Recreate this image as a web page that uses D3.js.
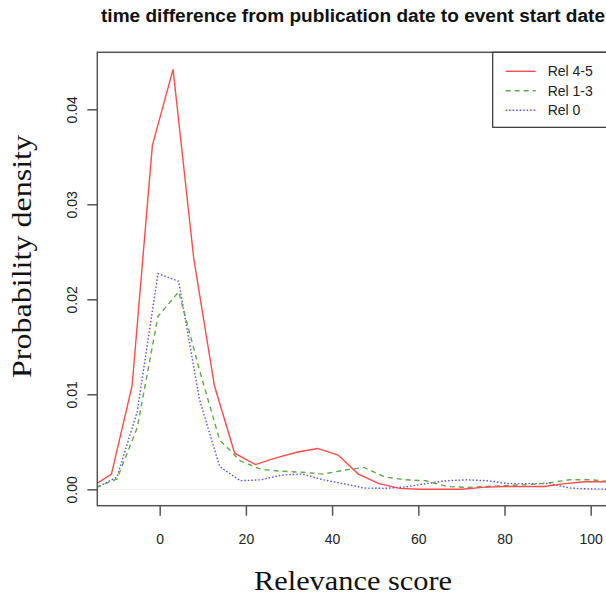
<!DOCTYPE html>
<html>
<head>
<meta charset="utf-8">
<script src="https://cdn.jsdelivr.net/npm/d3@7"></script>
<style>
    body { margin: 0; background: #fff; }
    svg { display: block; }
    .tick text { font-family: 'Liberation Sans', Arial, sans-serif; font-size: 14px; fill: #222; }
</style>
</head>
<body>
<script>
// x positions of the density estimates (Rel 4-5 uses its own grid)
const relHighX = [-16.0, -11.2, -6.4, -1.7, 3.1, 7.9, 12.7, 17.4, 22.2, 27.0, 31.8, 36.6, 41.4, 46.1,
    50.9, 55.7, 60.5, 65.3, 70.1, 74.8, 79.6, 84.4, 89.2, 94.0, 98.7, 103.5, 108.3]
const relLowX = [-14.7, -9.9, -5.2, -0.4, 4.4, 9.2, 13.9, 18.7, 23.5, 28.3, 33.1, 37.9, 42.6, 47.4,
    52.2, 57.0, 61.8, 66.6, 71.3, 76.1, 80.9, 85.7, 90.5, 95.2, 100.0, 104.8]

// density values
const rel45 = [0.0002, 0.0016, 0.0109, 0.0362, 0.0442, 0.0243, 0.0109, 0.0038, 0.0026, 0.0033, 0.0039,
    0.0043, 0.0036, 0.0016, 0.0006, 0.0001, 0.0000, 0.0000, 0.0000, 0.0002, 0.0003, 0.0003, 0.0003,
    0.0006, 0.0008, 0.0008, 0.0008]
const rel13 = [0.0002, 0.0011, 0.0065, 0.0182, 0.0208, 0.0126, 0.0052, 0.0030, 0.0021, 0.0019, 0.0018,
    0.0016, 0.0020, 0.0023, 0.0013, 0.0010, 0.0009, 0.0003, 0.0002, 0.0003, 0.0004, 0.0005, 0.0007,
    0.0010, 0.0010, 0.0008]
const rel0 = [0.00015, 0.0013, 0.0082, 0.0227, 0.0219, 0.0095, 0.0024, 0.0009, 0.0010, 0.0015, 0.0016,
    0.0010, 0.0006, 0.00013, 0.0001, 0.00025, 0.0006, 0.0009, 0.0010, 0.0009, 0.0006, 0.0006, 0.0006,
    0.00013, 0.00003, 0.0]

const xTicks = [0, 20, 40, 60, 80, 100]
const yTicks = [0, 0.01, 0.02, 0.03, 0.04]
const seriesNames = ['Rel 4-5', 'Rel 1-3', 'Rel 0']

const w = 606
const h = 596
// plot box (right side runs off the picture)
const pLeft = 97.3
const pRight = 626
const pTop = 52.3
const pBottom = 505.7

const xScale = d3.scaleLinear().domain([0, 100]).range([159.7, 590.7])
const yScale = d3.scaleLinear().domain([0, 0.01]).range([489.3, 394.3])

const svg = d3.select('body')
    .append('svg')
    .attr('width', w)
    .attr('height', h)

// clip for the lines
svg.append('clipPath')
    .attr('id', 'plotclip')
    .append('rect')
    .attr('x', pLeft)
    .attr('y', pTop)
    .attr('width', pRight - pLeft)
    .attr('height', pBottom - pTop)

// faint zero line
svg.append('line')
    .attr('x1', pLeft).attr('x2', pRight)
    .attr('y1', yScale(0)).attr('y2', yScale(0))
    .style('stroke', '#eeeeee')
    .style('stroke-width', 1)

const series = [
    { name: seriesNames[0], xs: relHighX, ys: rel45, color: '#ff4b4b', dash: null },
    { name: seriesNames[1], xs: relLowX, ys: rel13, color: '#5fa850', dash: '5,4' },
    { name: seriesNames[2], xs: relLowX, ys: rel0, color: '#5050ff', dash: '1.5,2' }
]

const line = d3.line()
    .x(d => xScale(d[0]))
    .y(d => yScale(d[1]))

const plot = svg.append('g').attr('clip-path', 'url(#plotclip)')

// draw in reverse so red sits on top
series.slice().reverse().forEach(s => {
    plot.append('path')
        .datum(s.xs.map((x, i) => [x, s.ys[i]]))
        .attr('d', line)
        .style('fill', 'none')
        .style('stroke', s.color)
        .style('stroke-width', 1.4)
        .style('stroke-dasharray', s.dash)
})

// plot box
svg.append('rect')
    .attr('x', pLeft)
    .attr('y', pTop)
    .attr('width', pRight - pLeft)
    .attr('height', pBottom - pTop)
    .style('fill', 'none')
    .style('stroke', '#555')
    .style('stroke-width', 1.5)

// x axis
const xAxis = d3.axisBottom(xScale).tickValues(xTicks).tickSize(10).tickPadding(18)
const gx = svg.append('g')
    .attr('transform', `translate(0,${pBottom})`)
    .call(xAxis)
gx.select('.domain').remove()
gx.selectAll('.tick line').style('stroke', '#555').style('stroke-width', 1.5)

// y axis
const yAxis = d3.axisLeft(yScale).tickValues(yTicks).tickSize(10).tickFormat(d3.format('.2f'))
const gy = svg.append('g')
    .attr('transform', `translate(${pLeft},0)`)
    .call(yAxis)
gy.select('.domain').remove()
gy.selectAll('.tick line').style('stroke', '#555').style('stroke-width', 1.5)
gy.selectAll('.tick text')
    .attr('x', 0)
    .attr('dy', null)
    .attr('text-anchor', 'middle')
    .attr('transform', 'translate(-20,0) rotate(-90)')

// title (runs to the right edge like the original)
svg.append('text')
    .attr('x', 101)
    .attr('y', 22)
    .attr('textLength', 504)
    .attr('lengthAdjust', 'spacingAndGlyphs')
    .style('font-family', "'Liberation Sans', Arial, sans-serif")
    .style('font-weight', 'bold')
    .style('font-size', '18px')
    .style('fill', '#111')
    .text('time difference from publication date to event start date')

// axis labels
svg.append('text')
    .attr('x', 353)
    .attr('y', 590)
    .attr('text-anchor', 'middle')
    .attr('textLength', 198)
    .attr('lengthAdjust', 'spacingAndGlyphs')
    .style('font-family', "'Liberation Serif', 'Times New Roman', serif")
    .style('font-size', '28px')
    .style('fill', '#111')
    .text('Relevance score')

svg.append('text')
    .attr('transform', 'translate(31,256.5) rotate(-90)')
    .attr('text-anchor', 'middle')
    .attr('textLength', 243)
    .attr('lengthAdjust', 'spacingAndGlyphs')
    .style('font-family', "'Liberation Serif', 'Times New Roman', serif")
    .style('font-size', '28px')
    .style('fill', '#111')
    .text('Probability density')

// legend
const legendLeft = 492.7
const legendTop = pTop
const legend = svg.append('g')

legend.append('rect')
    .attr('x', legendLeft)
    .attr('y', legendTop)
    .attr('width', 140)
    .attr('height', 75)
    .style('fill', 'white')
    .style('stroke', '#333')
    .style('stroke-width', 1.2)

series.forEach((s, i) => {
    const ly = legendTop + 19 + i * 19.5
    legend.append('line')
        .attr('x1', legendLeft + 13).attr('x2', legendLeft + 43)
        .attr('y1', ly).attr('y2', ly)
        .style('stroke', s.color)
        .style('stroke-width', 1.4)
        .style('stroke-dasharray', s.dash)
    legend.append('text')
        .attr('x', legendLeft + 55)
        .attr('y', ly + 5)
        .style('font-family', "'Liberation Sans', Arial, sans-serif")
        .style('font-size', '14px')
        .style('fill', '#222')
        .text(s.name)
})
</script>
</body>
</html>
